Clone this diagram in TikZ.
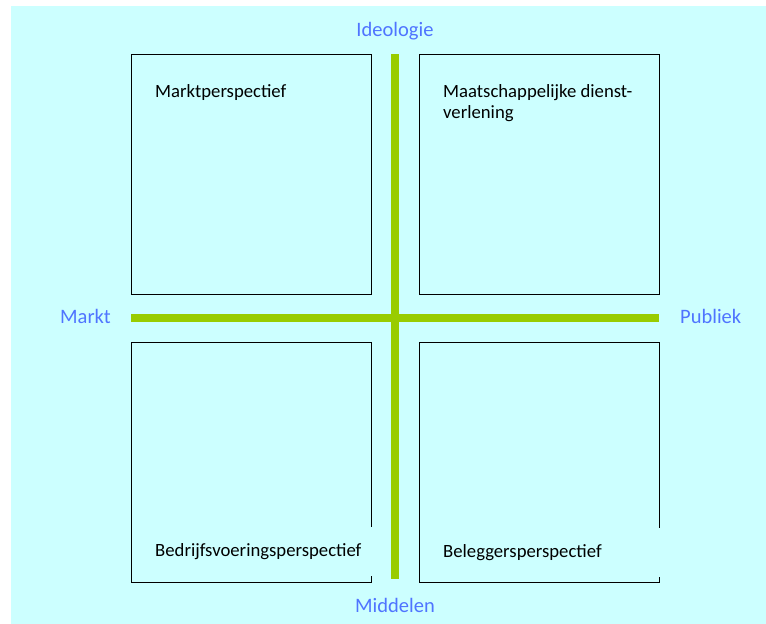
\documentclass[tikz,border=0pt]{standalone}
\usepackage{fontspec}
\setmainfont{Carlito}
\usetikzlibrary{shadows}
\definecolor{paper}{HTML}{CCFFFF}
\definecolor{axisbar}{HTML}{99CC00}
\definecolor{axislabel}{HTML}{4F74FF}
\begin{document}
\begin{tikzpicture}[x=1pt,y=-1pt,
  quadrant/.style={draw=black, line width=0.9pt, fill=paper,
    minimum width=240pt, minimum height=240pt, inner sep=0pt,
    drop shadow={shadow xshift=1pt, shadow yshift=-1pt, fill=black!45, opacity=1}},
  caption/.style={font=\fontsize{18.7}{21.5}\selectfont, text=black, inner sep=0pt},
  pole/.style={font=\fontsize{20.5}{24}\selectfont, text=axislabel, inner sep=0pt},
  bar/.style={draw=axisbar, line width=8pt},
  coverbox/.style={fill=paper, minimum height=49pt, minimum width=230pt,
    inner xsep=10pt, inner ysep=0pt, text width=215pt, align=left,
    font=\fontsize{18.7}{21.5}\selectfont, anchor=west}]
\useasboundingbox (0,0) rectangle (766,624);
\fill[paper] (11,6) rectangle (766,624);

% four quadrants
\node[quadrant] (tl) at (251,174) {};
\node[quadrant] (tr) at (539,174) {};
\node[quadrant] (bl) at (251,462) {};
\node[quadrant] (br) at (539,462) {};

% quadrant titles
\node[caption, anchor=base west] (tlt) at (155,97) {Marktperspectief};
\node[caption, anchor=base west, align=left] (trt) at (443,118.5)
  {Maatschappelijke dienst-\\verlening};
\node[coverbox] (blt) at (145,551.5) {Bedrijfsvoeringsperspectief};
\node[coverbox] (brt) at (433,552.5) {Beleggersperspectief};

% axes
\coordinate (vtop) at (395,54);
\coordinate (vbot) at (395,579);
\coordinate (hleft) at (131,318);
\coordinate (hright) at (659,318);
\draw[bar] (vtop) -- (vbot);
\draw[bar] (hleft) -- (hright);

% axis labels
\node[pole, anchor=base] (ideo) at (395,36) {Ideologie};
\node[pole, anchor=base] (midd) at (395,612) {Middelen};
\node[pole, anchor=base west] (markt) at (60,323.5) {Markt};
\node[pole, anchor=base west] (publ) at (680,323.5) {Publiek};
\end{tikzpicture}
\end{document}
